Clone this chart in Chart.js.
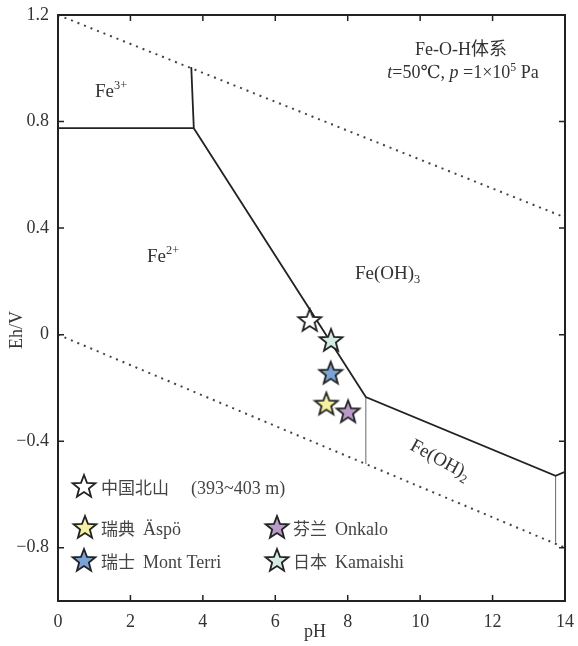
<!DOCTYPE html>
<html>
<head>
<meta charset="utf-8">
<script src="https://cdn.jsdelivr.net/npm/chart.js@4.4.0/dist/chart.umd.min.js"></script>
<style>
html, body { margin: 0; padding: 0; background: #fff; }
#wrap { width: 578px; height: 646px; }
</style>
</head>
<body>
<div id="wrap"><canvas id="ehChart"></canvas></div>
<script>
// axis ticks
const xTicks = [0, 2, 4, 6, 8, 10, 12, 14];
const yTicks = [-0.8, -0.4, 0, 0.4, 0.8, 1.2];

// water stability limits (dotted)
const waterUpper = [[0, 1.2], [14, 0.44]];
const waterLower = [[0, 0], [14, -0.8]];

// phase boundaries
const lineFe3Fe2 = [[0, 0.775], [3.75, 0.775]];
const lineFe3Oh3 = [[3.68, 1.005], [3.75, 0.775]];
const lineFe2Oh3 = [[3.75, 0.775], [8.5, -0.234], [13.74, -0.53], [14, -0.515]];
const lineFe2Oh2 = [[8.5, -0.234], [8.5, -0.486]];
const lineEdge = [[13.74, -0.53], [13.74, -0.78]];

// groundwater sites
const siteNames = ['中国北山', '瑞典 Äspö', '芬兰 Onkalo', '瑞士 Mont Terri', '日本 Kamaishi'];
const sitePH = [6.95, 7.41, 8.01, 7.53, 7.54];
const siteEh = [0.055, -0.259, -0.288, -0.143, -0.02];
const siteColors = ['#ffffff', '#f6f1a2', '#b99bc9', '#7ba3d7', '#d4ebe1'];

const SERIF = '"Liberation Serif", "DejaVu Serif", serif';
const CJK = '"Noto Sans CJK SC", "Noto Sans", sans-serif';

function pts(arr) {
    return arr.map(p => ({ x: p[0], y: p[1] }));
}

// five-point star image used as point style
function makeStar(fill) {
    const c = document.createElement('canvas');
    c.width = 28; c.height = 28;
    const g = c.getContext('2d');
    const R = 12, r = 5.1;
    g.beginPath();
    for (let i = 0; i < 10; i++) {
        const rad = i % 2 === 0 ? R : r;
        const a = -Math.PI / 2 + i * Math.PI / 5;
        const px = 14 + rad * Math.cos(a);
        const py = 15 + rad * Math.sin(a);
        if (i === 0) g.moveTo(px, py); else g.lineTo(px, py);
    }
    g.closePath();
    g.fillStyle = fill;
    g.fill();
    g.lineWidth = 1.8;
    g.lineJoin = 'miter';
    g.strokeStyle = '#222';
    g.stroke();
    return c;
}
const starImgs = siteColors.map(makeStar);

function lineSet(data, color, width, dash) {
    return {
        data: pts(data),
        showLine: true,
        borderColor: color,
        borderWidth: width,
        borderDash: dash || [],
        pointRadius: 0,
        pointHoverRadius: 0,
        fill: false,
        order: 2
    };
}

// text with sub/superscripts
function drawRich(ctx, parts, x, y, size, align) {
    const fontOf = (p, s) => (p.italic ? 'italic ' : '') + s + 'px ' + (p.cjk ? CJK : SERIF);
    let total = 0;
    parts.forEach(p => {
        const s = p.mode ? size * 0.65 : size;
        ctx.font = fontOf(p, s);
        total += ctx.measureText(p.t).width;
    });
    let cx = align === 'center' ? x - total / 2 : x;
    parts.forEach(p => {
        const s = p.mode ? size * 0.65 : size;
        ctx.font = fontOf(p, s);
        let dy = 0;
        if (p.mode === 'sup') dy = -size * 0.4;
        if (p.mode === 'sub') dy = size * 0.22;
        ctx.textAlign = 'left';
        ctx.textBaseline = 'alphabetic';
        ctx.fillText(p.t, cx, y + dy);
        cx += ctx.measureText(p.t).width;
    });
}

const decorPlugin = {
    id: 'decor',
    afterDraw(chart) {
        const ctx = chart.ctx;
        const a = chart.chartArea;
        const xs = chart.scales.x, ys = chart.scales.y;
        ctx.save();

        // frame
        ctx.strokeStyle = '#222';
        ctx.lineWidth = 2;
        ctx.strokeRect(a.left, a.top, a.right - a.left, a.bottom - a.top);

        // inward ticks
        ctx.lineWidth = 1.5;
        ctx.beginPath();
        xTicks.forEach(v => {
            const px = xs.getPixelForValue(v);
            ctx.moveTo(px, a.bottom); ctx.lineTo(px, a.bottom - 6);
            ctx.moveTo(px, a.top); ctx.lineTo(px, a.top + 6);
        });
        yTicks.forEach(v => {
            const py = ys.getPixelForValue(v);
            ctx.moveTo(a.left, py); ctx.lineTo(a.left + 6, py);
            ctx.moveTo(a.right, py); ctx.lineTo(a.right - 6, py);
        });
        ctx.stroke();

        ctx.fillStyle = '#333';
        // axis titles
        ctx.font = '18px ' + SERIF;
        ctx.textAlign = 'center';
        ctx.textBaseline = 'middle';
        ctx.fillText('pH', 315, 632);
        ctx.save();
        ctx.translate(17, 330);
        ctx.rotate(-Math.PI / 2);
        ctx.fillText('Eh/V', 0, 0);
        ctx.restore();

        // region labels
        drawRich(ctx, [{ t: 'Fe' }, { t: '3+', mode: 'sup' }], 95, 97, 19);
        drawRich(ctx, [{ t: 'Fe' }, { t: '2+', mode: 'sup' }], 147, 262, 19);
        drawRich(ctx, [{ t: 'Fe(OH)' }, { t: '3', mode: 'sub' }], 355, 279, 19);
        ctx.save();
        ctx.translate(409, 449);
        ctx.rotate(0.5);
        drawRich(ctx, [{ t: 'Fe(OH)' }, { t: '2', mode: 'sub' }], 0, 0, 19);
        ctx.restore();

        // system note
        drawRich(ctx, [{ t: 'Fe-O-H' }, { t: '体系', cjk: true }], 461, 55, 18, 'center');
        drawRich(ctx, [
            { t: 't', italic: true }, { t: '=50℃, ' }, { t: 'p', italic: true },
            { t: ' =1×10' }, { t: '5', mode: 'sup' }, { t: ' Pa' }
        ], 463, 78, 18, 'center');

        // legend
        const rows = [
            [0, 84, 487, 101, 494],
            [1, 85, 528, 101, 535],
            [3, 84, 561, 101, 568],
            [2, 277, 528, 293, 535],
            [4, 277, 561, 293, 568]
        ];
        rows.forEach(r => {
            const i = r[0];
            ctx.drawImage(starImgs[i], r[1] - 14, r[2] - 15);
            const name = siteNames[i];
            const sp = name.indexOf(' ');
            const cn = sp > 0 ? name.slice(0, sp) : name;
            const en = sp > 0 ? name.slice(sp + 1) : '';
            ctx.fillStyle = '#444';
            ctx.textAlign = 'left';
            ctx.textBaseline = 'alphabetic';
            ctx.font = '17px ' + CJK;
            ctx.fillText(cn, r[3], r[4]);
            const w = ctx.measureText(cn).width;
            ctx.font = '18px ' + SERIF;
            if (en) ctx.fillText(en, r[3] + w + 8, r[4]);
        });
        ctx.font = '18px ' + SERIF;
        ctx.fillText('(393~403 m)', 191, 494);

        ctx.restore();
    }
};

const siteSets = siteNames.map((n, i) => ({
    label: n,
    data: [{ x: sitePH[i], y: siteEh[i] }],
    pointStyle: starImgs[i],
    pointRadius: 12,
    pointHoverRadius: 12,
    order: 0
}));

new Chart(document.getElementById('ehChart').getContext('2d'), {
    type: 'scatter',
    data: {
        datasets: [
            lineSet(waterUpper, '#444', 2, [2, 5]),
            lineSet(waterLower, '#444', 2, [2, 5]),
            lineSet(lineFe3Fe2, '#222', 1.8),
            lineSet(lineFe3Oh3, '#222', 1.8),
            lineSet(lineFe2Oh3, '#222', 1.8),
            lineSet(lineFe2Oh2, '#777', 1.1),
            lineSet(lineEdge, '#777', 1.1)
        ].concat(siteSets)
    },
    options: {
        responsive: true,
        maintainAspectRatio: false,
        animation: false,
        layout: { padding: { top: 15, right: 11, left: 0, bottom: 0 } },
        plugins: {
            legend: { display: false },
            tooltip: { enabled: false }
        },
        scales: {
            x: {
                type: 'linear',
                min: 0,
                max: 14,
                afterBuildTicks: s => { s.ticks = xTicks.map(v => ({ value: v })); },
                afterFit: s => { s.height = 45; s.paddingLeft = 0; s.paddingRight = 0; },
                grid: { display: false, drawTicks: false },
                border: { display: false },
                ticks: {
                    padding: 10,
                    color: '#333',
                    font: { family: SERIF, size: 18 },
                    callback: v => String(v)
                }
            },
            y: {
                type: 'linear',
                min: -1.0,
                max: 1.2,
                afterBuildTicks: s => { s.ticks = yTicks.map(v => ({ value: v })); },
                afterFit: s => { s.width = 58; s.paddingTop = 0; s.paddingBottom = 0; },
                grid: { display: false, drawTicks: false },
                border: { display: false },
                ticks: {
                    padding: 9,
                    color: '#333',
                    font: { family: SERIF, size: 18 },
                    callback: v => {
                        const t = Math.abs(v) < 1e-9 ? '0' : Math.abs(v).toFixed(1);
                        return v < -1e-9 ? '\u2212' + t : t;
                    }
                }
            }
        }
    },
    plugins: [decorPlugin]
});
</script>
</body>
</html>
